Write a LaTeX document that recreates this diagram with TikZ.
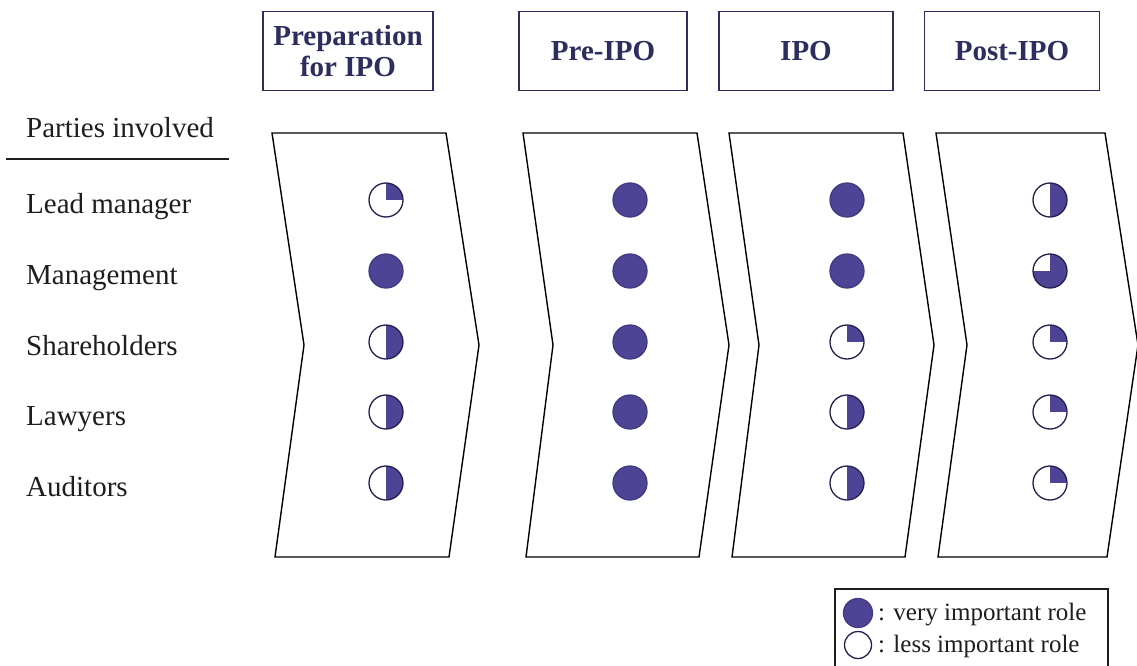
\documentclass[tikz,border=0pt]{standalone}
\usepackage{fontspec}
\setmainfont{Liberation Serif}
\definecolor{ballfill}{RGB}{78,68,150}
\definecolor{ballline}{RGB}{35,32,80}
\definecolor{navy}{RGB}{45,45,95}
\definecolor{ink}{RGB}{30,30,30}
\tikzset{
 hb/.style={circle, draw=ballline, line width=1.3pt, minimum size=34pt, inner sep=0pt, fill=white},
 fullb/.style={hb, fill=ballfill, draw=ballfill!85!black},
 halfb/.style={hb, path picture={\fill[ballfill] (path picture bounding box.north) rectangle (path picture bounding box.south east);}},
 quarterb/.style={hb, path picture={\fill[ballfill] (path picture bounding box.center) rectangle (path picture bounding box.north east);}},
 threeqb/.style={hb, path picture={\fill[ballfill] (path picture bounding box.south west) rectangle (path picture bounding box.east); \fill[ballfill] (path picture bounding box.center) rectangle (path picture bounding box.north east);}},
 chev/.style={draw=black, line width=1.4pt, line join=miter},
 hdr/.style={draw=navy, line width=1.4pt, text=navy, font=\fontsize{29}{31}\selectfont\bfseries, align=center, minimum height=79pt, inner sep=0pt},
 lbl/.style={anchor=base west, text=ink, font=\fontsize{29}{34}\selectfont, inner sep=0pt},
 leg/.style={anchor=base west, text=ink, font=\fontsize{25}{30}\selectfont, inner sep=0pt},
}
\begin{document}
\begin{tikzpicture}[x=1pt,y=-1pt]
\useasboundingbox (0,0) rectangle (1137,666);
% headers
\node[hdr, minimum width=170pt] (h1) at (348,51) {Preparation\\for IPO};
\node[hdr, minimum width=168pt] (h2) at (603,51) {Pre-IPO};
\node[hdr, minimum width=174pt] (h3) at (806,51) {IPO};
\node[hdr, minimum width=175pt] (h4) at (1012,51) {Post-IPO};
% chevrons
\draw[chev] (272,133) -- (446,133) -- (479,345) -- (449,557) -- (275,557) -- (304,345) -- cycle;
\draw[chev] (523,133) -- (697,133) -- (729,345) -- (699,557) -- (526,557) -- (553,345) -- cycle;
\draw[chev] (729,133) -- (903,133) -- (934,345) -- (905,557) -- (732,557) -- (759,345) -- cycle;
\draw[chev] (936,133) -- (1105,133) -- (1138,345) -- (1107,557) -- (938,557) -- (967,345) -- cycle;
% left labels
\node[lbl] (pi) at (26,137) {Parties involved};
\coordinate (rl) at (6,159);
\coordinate (rr) at (229,159);
\draw[line width=1.3pt, ink] (rl) -- (rr);
\node[lbl] (l1) at (26,213) {Lead manager};
\node[lbl] (l2) at (26,284) {Management};
\node[lbl] (l3) at (26,355) {Shareholders};
\node[lbl] (l4) at (26,425) {Lawyers};
\node[lbl] (l5) at (26,496) {Auditors};
% column 1
\node[quarterb] (b11) at (386,200) {};
\node[fullb]    (b12) at (386,271) {};
\node[halfb]    (b13) at (386,342) {};
\node[halfb]    (b14) at (386,412) {};
\node[halfb]    (b15) at (386,483) {};
% column 2
\node[fullb] (b21) at (630,200) {};
\node[fullb] (b22) at (630,271) {};
\node[fullb] (b23) at (630,342) {};
\node[fullb] (b24) at (630,412) {};
\node[fullb] (b25) at (630,483) {};
% column 3
\node[fullb]    (b31) at (847,200) {};
\node[fullb]    (b32) at (847,271) {};
\node[quarterb] (b33) at (847,342) {};
\node[halfb]    (b34) at (847,412) {};
\node[halfb]    (b35) at (847,483) {};
% column 4
\node[halfb]    (b41) at (1050,200) {};
\node[threeqb]  (b42) at (1050,271) {};
\node[quarterb] (b43) at (1050,342) {};
\node[quarterb] (b44) at (1050,412) {};
\node[quarterb] (b45) at (1050,483) {};
% legend
\draw[line width=1.3pt, ink] (835,589) rectangle (1108,700);
\node[fullb, minimum size=29pt] (lg1) at (858,613) {};
\node[hb, minimum size=27pt] (lg2) at (858,645) {};
\node[leg] (lt1) at (878,620) {: very important role};
\node[leg] (lt2) at (878,652) {: less important role};
\end{tikzpicture}
\end{document}
